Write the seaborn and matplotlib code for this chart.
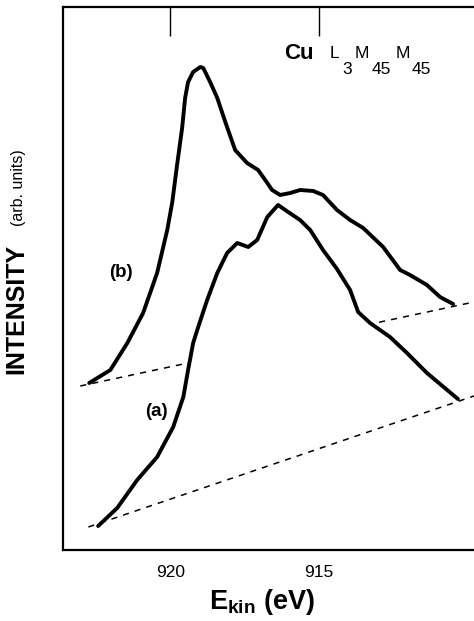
import numpy as np
import pandas as pd
import matplotlib
matplotlib.use('Agg')
import matplotlib.pyplot as plt
import seaborn as sns

# spectrum (b) - kinetic energy (eV) and intensity (arb. units)
e_b = [922.72, 922.01, 921.44, 920.91, 920.44, 920.10, 919.93, 919.77, 919.60, 919.50,
       919.40, 919.23, 918.99, 918.89, 918.66, 918.42, 918.15, 917.82, 917.42, 917.05,
       916.81, 916.58, 916.31, 915.97, 915.64, 915.20, 914.87, 914.40, 913.96, 913.52,
       912.85, 912.28, 911.95, 911.38, 910.94, 910.50]
i_b = [167, 180, 207, 237, 277, 320, 348, 385, 422, 452,
       468, 478, 483, 482, 468, 452, 428, 400, 387, 380,
       370, 360, 355, 357, 360, 359, 355, 340, 330, 322,
       303, 280, 275, 265, 253, 246]

# spectrum (a)
e_a = [922.42, 921.78, 921.11, 920.44, 919.90, 919.56, 919.40, 919.23, 919.06, 918.76,
       918.42, 918.09, 917.75, 917.38, 917.08, 916.74, 916.38, 916.04, 915.64, 915.30,
       914.87, 914.40, 913.96, 913.69, 913.29, 912.62, 912.05, 911.38, 910.70, 910.34]
i_a = [24, 42, 70, 93, 123, 153, 180, 207, 223, 250,
       277, 297, 307, 303, 310, 333, 345, 338, 330, 320,
       300, 281, 260, 238, 227, 213, 197, 177, 160, 151]

# linear backgrounds (end points)
bg_b_e = [923.02, 909.80]
bg_b_i = [164, 248]
bg_a_e = [922.75, 909.80]
bg_a_i = [23, 154]

sns.set_style('ticks')
plt.rcParams['font.family'] = ['Liberation Sans', 'DejaVu Sans']
plt.rcParams['mathtext.fontset'] = 'custom'
plt.rcParams['mathtext.rm'] = 'Liberation Sans'
plt.rcParams['mathtext.bf'] = 'Liberation Sans:bold'
plt.rcParams['text.color'] = 'black'
plt.rcParams['xtick.color'] = 'black'
plt.rcParams['xtick.labelcolor'] = 'black'

W, H = 474, 621
fig = plt.figure(figsize=(W / 100, H / 100), dpi=100)
ax = fig.add_axes([63 / W, 1 - 550 / H, 1 - 63 / W, (550 - 7) / H])

df_a = pd.DataFrame({'E': e_a, 'I': i_a})
df_b = pd.DataFrame({'E': e_b, 'I': i_b})

ax.plot(bg_b_e, bg_b_i, color='black', lw=1.1, ls=(0, (4, 4)), zorder=1)
ax.fill_between(e_a, i_a, 0, color='white', zorder=2)
ax.plot(bg_a_e, bg_a_i, color='black', lw=1.1, ls=(0, (4, 4)), zorder=3)
sns.lineplot(data=df_b, x='E', y='I', sort=False, color='black', lw=2.8, ax=ax, zorder=4,
             solid_joinstyle='round', solid_capstyle='round')
sns.lineplot(data=df_a, x='E', y='I', sort=False, color='black', lw=2.8, ax=ax, zorder=4,
             solid_joinstyle='round', solid_capstyle='round')

ax.set_xlim(923.6, 909.8)
ax.set_ylim(0, 543)
ax.set_xticks([920, 915])
ax.set_xticklabels(['920', '915'], fontsize=12.5)
ax.set_yticks([])
ax.tick_params(axis='x', direction='in', length=21, width=1.0, top=True, pad=11, color='black')
ax.spines['right'].set_visible(False)
for s in ['left', 'bottom', 'top']:
    ax.spines[s].set_linewidth(1.6)
    ax.spines[s].set_color('black')
ax.set_xlabel('')
ax.set_ylabel('')

def px(x, y, s, **kw):
    fig.text(x / W, 1 - y / H, s, **kw)

# axis labels
px(262, 609, r'$\mathbf{E_{kin}}$ $\mathbf{(eV)}$', fontsize=19.5, ha='center', va='baseline')
px(28, 309, 'INTENSITY', fontsize=18, fontweight='bold', rotation=90, ha='right', va='center')
px(26, 188, '(arb. units)', fontsize=11.5, rotation=90, ha='right', va='center')

# title block
px(284, 59, 'Cu', fontsize=16, fontweight='bold', ha='left', va='baseline')
px(330, 58, 'L', fontsize=12.5, ha='left', va='baseline')
px(342, 74, '3', fontsize=12.5, ha='left', va='baseline')
px(355, 58, 'M', fontsize=12.5, ha='left', va='baseline')
px(372, 74, '45', fontsize=12.5, ha='left', va='baseline')
px(396, 58, 'M', fontsize=12.5, ha='left', va='baseline')
px(412, 74, '45', fontsize=12.5, ha='left', va='baseline')

# curve labels
px(121, 273, '(b)', fontsize=13.5, fontweight='bold', ha='center', va='center')
px(156, 411, '(a)', fontsize=13.5, fontweight='bold', ha='center', va='center')

fig.savefig('out.png', dpi=100, facecolor='white')
